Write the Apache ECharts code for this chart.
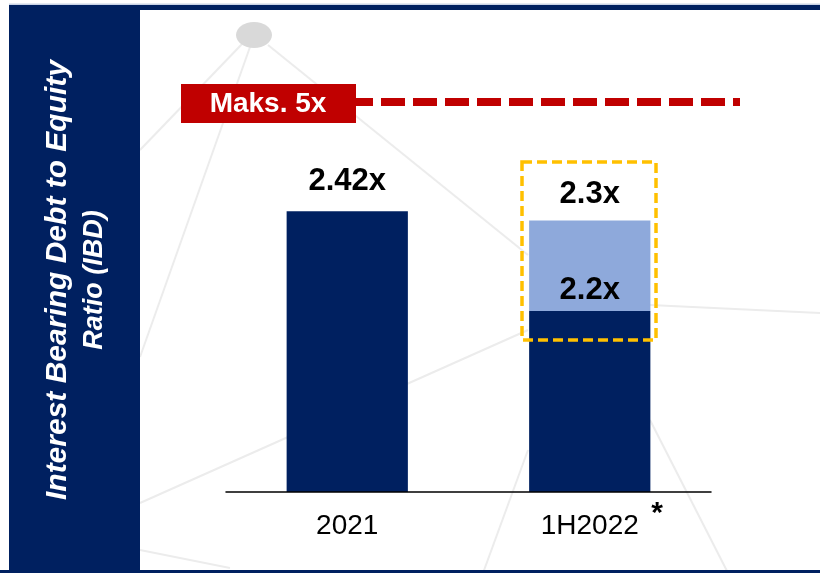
<!DOCTYPE html>
<html>
<head>
<meta charset="utf-8">
<style>
  html, body { margin: 0; padding: 0; background: #fff; }
  #chart { width: 820px; height: 573px; }
</style>
<script src="https://cdn.jsdelivr.net/npm/echarts@6/dist/echarts.min.js"></script>
</head>
<body>
<div id="chart"></div>
<script>
// values as drawn (bar heights in ratio units), plus the printed labels
const categories = ["2021", "1H2022"];
const baseHeights = [2.42, 1.56];
const upsideHeights = ["-", 0.78];
const baseLabels = ["2.42x", "2.2x"];
const upsideLabels = ["", "2.3x"];
const capLabel = "Maks. 5x";

const NAVY = "#002060";
const FONT = "Liberation Sans, Arial, sans-serif";

// faint network lines in the slide background
const bgLines = [
  [242, 44, 140, 150],
  [250, 47, 140, 357],
  [268, 45, 528, 255],
  [140, 503, 528, 330],
  [650, 305, 820, 313],
  [528, 450, 483, 573],
  [650, 420, 728, 573],
  [140, 550, 230, 568],
];

const chart = echarts.init(document.getElementById("chart"), null, { renderer: "canvas" });

chart.setOption({
  backgroundColor: "#fff",
  animation: false,
  grid: { left: 226, right: 109, top: 86, bottom: 81 },
  xAxis: {
    type: "category",
    data: categories,
    axisLine: { lineStyle: { color: "#000", width: 1.5 } },
    axisTick: { show: false },
    axisLabel: { color: "#000", fontSize: 28, fontFamily: FONT, margin: 20 },
    z: 5,
  },
  yAxis: {
    type: "value",
    min: 0,
    max: 3.5,
    show: false,
    splitLine: { show: false },
  },
  series: [
    {
      type: "bar",
      stack: "ibd",
      barWidth: "50%",
      z: 4,
      itemStyle: { color: NAVY },
      data: baseHeights.map((v, i) => ({
        value: v,
        label: { distance: i === 0 ? 14 : 5 },
      })),
      label: {
        show: true,
        position: "top",
        color: "#000",
        fontWeight: "bold",
        fontSize: 31,
        fontFamily: FONT,
        formatter: (p) => baseLabels[p.dataIndex],
      },
    },
    {
      type: "bar",
      stack: "ibd",
      barWidth: "50%",
      z: 2,
      itemStyle: { color: "#8EA9DB" },
      data: upsideHeights,
      label: {
        show: true,
        position: "top",
        distance: 11,
        color: "#000",
        fontWeight: "bold",
        fontSize: 31,
        fontFamily: FONT,
        formatter: (p) => upsideLabels[p.dataIndex],
      },
    },
  ],
  graphic: [
    ...bgLines.map(([x1, y1, x2, y2]) => ({
      type: "line",
      z: -10,
      shape: { x1, y1, x2, y2 },
      style: { stroke: "#ececec", lineWidth: 2 },
    })),
    {
      type: "ellipse",
      z: -9,
      shape: { cx: 254, cy: 35, rx: 18, ry: 13 },
      style: { fill: "#d9d9d9" },
    },
    // left title panel and frame
    {
      type: "rect",
      z: 10,
      shape: { x: 9, y: 5, width: 131, height: 570, r: [4, 0, 0, 0] },
      style: { fill: NAVY },
    },
    {
      type: "rect",
      z: 10,
      shape: { x: 9, y: 3.5, width: 811, height: 1.5 },
      style: { fill: "#c9d3e6" },
    },
    {
      type: "rect",
      z: 10,
      shape: { x: 9, y: 5, width: 811, height: 5 },
      style: { fill: NAVY },
    },
    {
      type: "rect",
      z: 10,
      shape: { x: 0, y: 570, width: 820, height: 3 },
      style: { fill: NAVY },
    },
    {
      type: "text",
      z: 11,
      x: 76,
      y: 280,
      rotation: Math.PI / 2,
      style: {
        text: "{a|Interest Bearing Debt to Equity}\n{b|Ratio (IBD)}",
        align: "center",
        verticalAlign: "middle",
        fill: "#fff",
        rich: {
          a: { fontSize: 30, fontWeight: "bold", fontStyle: "italic", fontFamily: FONT, fill: "#fff", lineHeight: 37 },
          b: { fontSize: 27, fontWeight: "bold", fontStyle: "italic", fontFamily: FONT, fill: "#fff", lineHeight: 37 },
        },
      },
    },
    // max covenant line
    {
      type: "line",
      z: 6,
      shape: { x1: 349, y1: 102, x2: 740, y2: 102 },
      style: { stroke: "#C00000", lineWidth: 8, lineDash: [24, 8] },
    },
    {
      type: "rect",
      z: 7,
      shape: { x: 181, y: 84, width: 175, height: 39 },
      style: { fill: "#C00000" },
    },
    {
      type: "text",
      z: 8,
      x: 268,
      y: 104,
      style: {
        text: capLabel,
        align: "center",
        verticalAlign: "middle",
        fill: "#fff",
        fontSize: 28,
        fontWeight: "bold",
        fontFamily: FONT,
      },
    },
    // highlight box around the 1H2022 projection
    {
      type: "rect",
      z: 6,
      shape: { x: 522, y: 162, width: 134, height: 178 },
      style: { fill: "none", stroke: "#FFC000", lineWidth: 3.5, lineDash: [10, 5] },
    },
    {
      type: "text",
      z: 8,
      x: 657,
      y: 514,
      style: {
        text: "*",
        align: "center",
        verticalAlign: "middle",
        fill: "#000",
        fontSize: 30,
        fontWeight: "bold",
        fontFamily: FONT,
      },
    },
  ],
});
</script>
</body>
</html>
